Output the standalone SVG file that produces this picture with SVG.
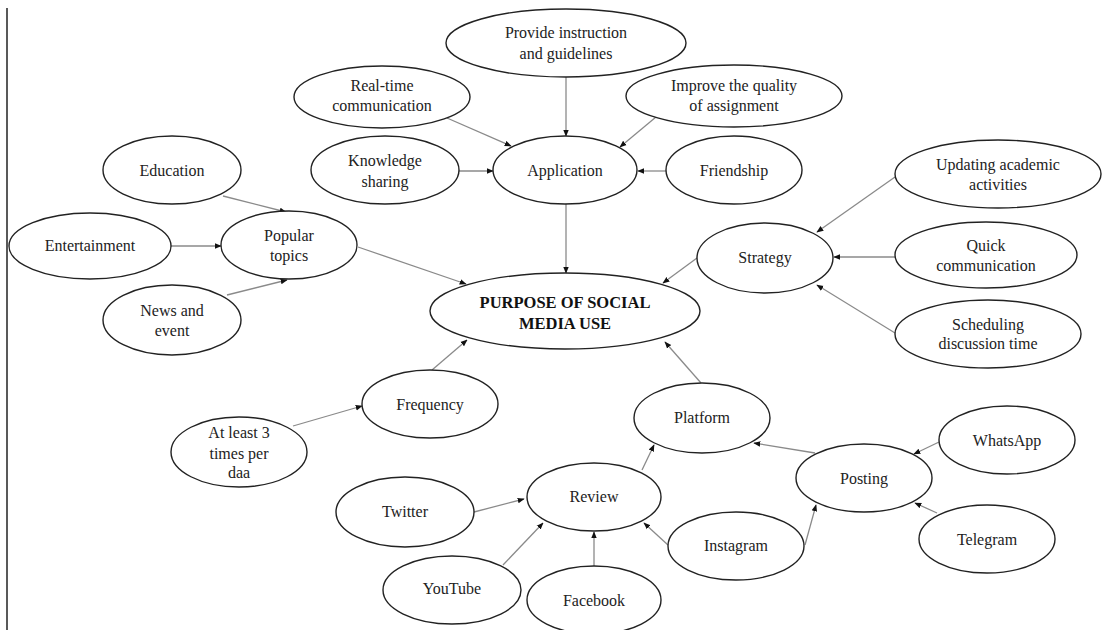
<svg xmlns="http://www.w3.org/2000/svg" width="1108" height="630" viewBox="0 0 1108 630">
<style>
.n ellipse{fill:#fff;stroke:#222;stroke-width:1.4}
.n text{font-family:"Liberation Serif","Times New Roman",serif;font-size:16px;fill:#222;text-anchor:middle}
.n text.b{font-weight:bold;font-size:16.5px;fill:#111}
.c line{stroke:#8a8a8a;stroke-width:1.3;marker-end:url(#ah)}
</style>
<defs>
<marker id="ah" viewBox="0 0 10 10" refX="9" refY="5" markerWidth="7" markerHeight="7" markerUnits="userSpaceOnUse" orient="auto">
<path d="M0,1 L10,5 L0,9 z" fill="#111"/>
</marker>
</defs>
<rect width="1108" height="630" fill="#fff"/>
<line x1="7" y1="8" x2="7" y2="630" stroke="#222" stroke-width="1.5"/>
<g class="c">
<line x1="566" y1="77" x2="566" y2="136"/>
<line x1="447" y1="118" x2="511" y2="146"/>
<line x1="656" y1="117" x2="620" y2="147"/>
<line x1="459" y1="171" x2="493" y2="171"/>
<line x1="666" y1="171" x2="638" y2="171"/>
<line x1="566" y1="204" x2="566" y2="273"/>
<line x1="223" y1="196" x2="286" y2="212"/>
<line x1="171" y1="246" x2="221" y2="246"/>
<line x1="227" y1="295" x2="287" y2="280"/>
<line x1="358" y1="247" x2="466" y2="284"/>
<line x1="697" y1="258" x2="663" y2="283"/>
<line x1="895" y1="177" x2="817" y2="232"/>
<line x1="895" y1="257" x2="834" y2="257"/>
<line x1="895" y1="333" x2="817" y2="285"/>
<line x1="432" y1="370" x2="467" y2="340"/>
<line x1="293" y1="426" x2="362" y2="406"/>
<line x1="701" y1="383" x2="665" y2="342"/>
<line x1="642" y1="470" x2="654" y2="445"/>
<line x1="815" y1="453" x2="754" y2="443"/>
<line x1="939" y1="442" x2="914" y2="454"/>
<line x1="937" y1="513" x2="915" y2="503"/>
<line x1="805" y1="545" x2="816" y2="505"/>
<line x1="668" y1="545" x2="644" y2="523"/>
<line x1="594" y1="566" x2="594" y2="532"/>
<line x1="474" y1="512" x2="524" y2="499"/>
<line x1="503" y1="565" x2="543" y2="523"/>
</g>
<g class="n" id="provide"><ellipse cx="566" cy="43" rx="120" ry="34"/><text x="566" y="38">Provide instruction</text><text x="566" y="59">and guidelines</text></g>
<g class="n" id="realtime"><ellipse cx="382" cy="97" rx="88" ry="31"/><text x="382" y="91">Real-time</text><text x="382" y="111">communication</text></g>
<g class="n" id="improve"><ellipse cx="734" cy="96" rx="108" ry="31"/><text x="734" y="91">Improve the quality</text><text x="734" y="111">of assignment</text></g>
<g class="n" id="knowledge"><ellipse cx="385" cy="170" rx="74" ry="34"/><text x="385" y="166">Knowledge</text><text x="385" y="187">sharing</text></g>
<g class="n" id="application"><ellipse cx="565" cy="170" rx="72" ry="34"/><text x="565" y="176">Application</text></g>
<g class="n" id="friendship"><ellipse cx="734" cy="170" rx="68" ry="34"/><text x="734" y="176">Friendship</text></g>
<g class="n" id="education"><ellipse cx="172" cy="170" rx="69" ry="34"/><text x="172" y="176">Education</text></g>
<g class="n" id="entertainment"><ellipse cx="90" cy="246" rx="81" ry="33"/><text x="90" y="251">Entertainment</text></g>
<g class="n" id="popular"><ellipse cx="289" cy="245" rx="68" ry="34"/><text x="289" y="241">Popular</text><text x="289" y="261">topics</text></g>
<g class="n" id="news"><ellipse cx="172" cy="320" rx="69" ry="35"/><text x="172" y="316">News and</text><text x="172" y="336">event</text></g>
<g class="n" id="purpose"><ellipse cx="565" cy="311" rx="135" ry="38"/><text class="b" x="565" y="308">PURPOSE OF SOCIAL</text><text class="b" x="565" y="329">MEDIA USE</text></g>
<g class="n" id="strategy"><ellipse cx="765" cy="258" rx="68" ry="35"/><text x="765" y="263">Strategy</text></g>
<g class="n" id="updating"><ellipse cx="998" cy="174" rx="103" ry="34"/><text x="998" y="170">Updating academic</text><text x="998" y="190">activities</text></g>
<g class="n" id="quick"><ellipse cx="986" cy="255" rx="91" ry="33"/><text x="986" y="251">Quick</text><text x="986" y="271">communication</text></g>
<g class="n" id="scheduling"><ellipse cx="988" cy="334" rx="93" ry="34"/><text x="988" y="330">Scheduling</text><text x="988" y="349">discussion time</text></g>
<g class="n" id="frequency"><ellipse cx="430" cy="404" rx="68" ry="34"/><text x="430" y="410">Frequency</text></g>
<g class="n" id="atleast"><ellipse cx="239" cy="452" rx="68" ry="35"/><text x="239" y="438">At least 3</text><text x="239" y="459">times per</text><text x="239" y="478">daa</text></g>
<g class="n" id="platform"><ellipse cx="702" cy="418" rx="68" ry="35"/><text x="702" y="423">Platform</text></g>
<g class="n" id="posting"><ellipse cx="864" cy="478" rx="68" ry="34"/><text x="864" y="484">Posting</text></g>
<g class="n" id="whatsapp"><ellipse cx="1007" cy="440" rx="68" ry="34"/><text x="1007" y="446">WhatsApp</text></g>
<g class="n" id="telegram"><ellipse cx="987" cy="539" rx="68" ry="34"/><text x="987" y="545">Telegram</text></g>
<g class="n" id="review"><ellipse cx="594" cy="497" rx="67" ry="34"/><text x="594" y="502">Review</text></g>
<g class="n" id="instagram"><ellipse cx="736" cy="546" rx="68" ry="34"/><text x="736" y="551">Instagram</text></g>
<g class="n" id="facebook"><ellipse cx="594" cy="600" rx="67" ry="34"/><text x="594" y="606">Facebook</text></g>
<g class="n" id="twitter"><ellipse cx="405" cy="512" rx="69" ry="35"/><text x="405" y="517">Twitter</text></g>
<g class="n" id="youtube"><ellipse cx="452" cy="590" rx="69" ry="34"/><text x="452" y="594">YouTube</text></g>
</svg>
